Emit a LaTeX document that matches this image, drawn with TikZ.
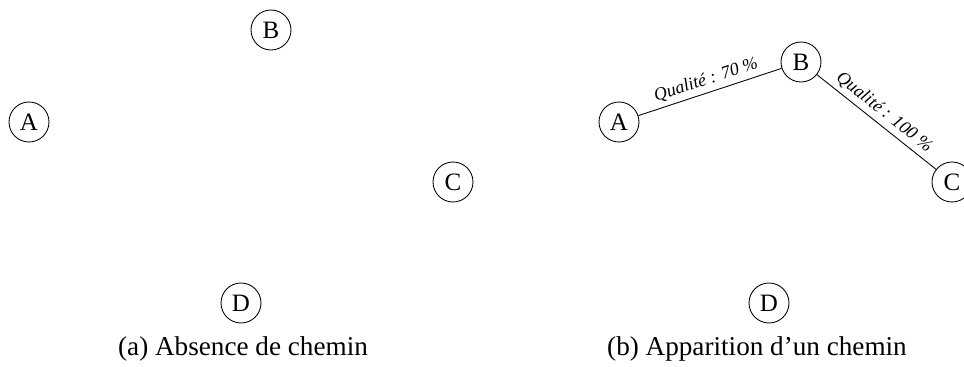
\documentclass[tikz,border=0pt]{standalone}
\usepackage{fontspec}
\setmainfont{Liberation Serif}
\usetikzlibrary{positioning}

\begin{document}
\begin{tikzpicture}[
  x=0.46pt, y=-0.46pt,
  sommet/.style={circle, draw, thin, minimum size=18.4pt, inner sep=0pt, font=\fontsize{11.5}{13}\selectfont},
  lien/.style={thin},
  qual/.style={font=\itshape\fontsize{8.3}{10}\selectfont, sloped, above, inner sep=2pt},
  legende/.style={font=\fontsize{12.5}{15}\selectfont},
]
\useasboundingbox (0,0) rectangle (964,367);
% (a) absence de chemin
\node[sommet] (a1) at (29,122) {A};
\node[sommet] (b1) at (271,30) {B};
\node[sommet] (c1) at (453,182) {C};
\node[sommet] (d1) at (241,303) {D};
\node[legende] (capa) at (243,349) {(a) Absence de chemin};

% (b) apparition d'un chemin
\node[sommet] (a2) at (619,122) {A};
\node[sommet] (b2) at (801,62) {B};
\node[sommet] (c2) at (952,182) {C};
\node[sommet] (d2) at (769,303) {D};
\node[legende] (capb) at (757,349) {(b) Apparition d'un chemin};

\draw[lien] (a2) -- node[qual]{Qualité : 70 \%} (b2);
\draw[lien] (b2) -- node[qual]{Qualité : 100 \%} (c2);
\end{tikzpicture}
\end{document}
